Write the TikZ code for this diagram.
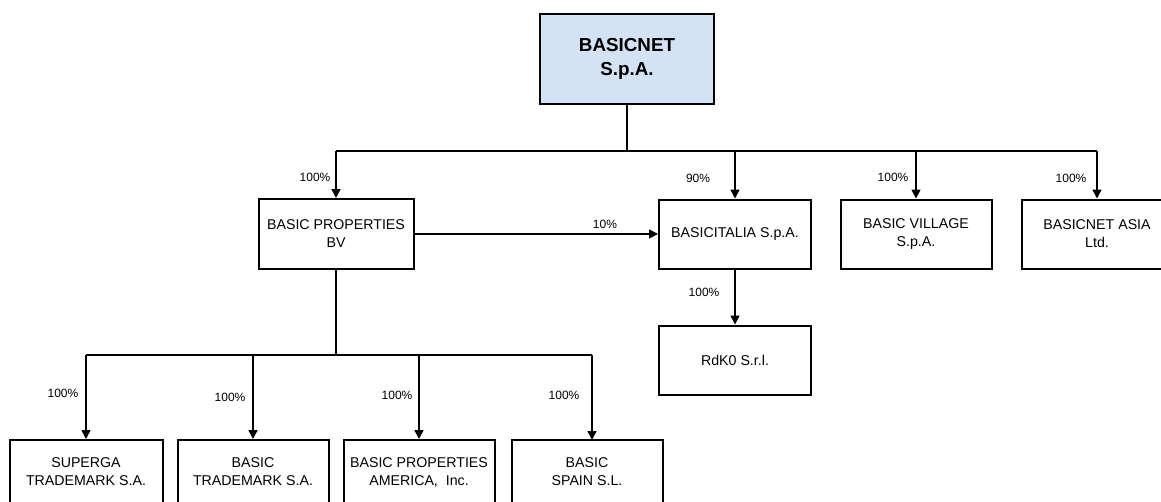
\documentclass[tikz,border=0pt]{standalone}
\usepackage{fontspec}
\setmainfont{Liberation Sans}
\usetikzlibrary{arrows.meta}
\begin{document}
\begin{tikzpicture}[x=1pt,y=-1pt,
  box/.style={draw=black,line width=2pt,fill=white,inner sep=0pt,align=center,
    font=\fontsize{14.2}{18}\selectfont},
  topbox/.style={draw=black,line width=2.8pt,fill=topblue,inner sep=0pt,align=center,
    font=\fontsize{18.8}{24}\selectfont\bfseries,minimum width=174pt,minimum height=90pt},
  conn/.style={draw=black,line width=1.6pt},
  arr/.style={conn,-{Triangle[length=9pt,width=9pt]}},
  pct/.style={inner sep=0pt,font=\fontsize{12}{14}\selectfont}]
\definecolor{topblue}{RGB}{212,227,243}
\useasboundingbox (0,0) rectangle (1161,501);
% nodes
\node[topbox] (top) at (627,59) {BASICNET\\S.p.A.};
\node[box,minimum width=155pt,minimum height=70pt] (bp) at (336,234) {BASIC PROPERTIES\\BV};
\node[box,minimum width=152pt,minimum height=69pt] (bi) at (735,234) {BASICITALIA S.p.A.};
\node[box,minimum width=151pt,minimum height=69pt] (bv) at (916,234) {BASIC VILLAGE\\S.p.A.};
\node[box,minimum width=150pt,minimum height=69pt] (ba) at (1097,234) {BASICNET ASIA\\Ltd.};
\node[box,minimum width=152pt,minimum height=69pt] (rd) at (735,360) {RdK0 S.r.l.};
\node[box,minimum width=153pt,minimum height=64pt] (sg) at (86,472) {SUPERGA\\TRADEMARK S.A.};
\node[box,minimum width=151pt,minimum height=64pt] (tm) at (253,472) {BASIC\\TRADEMARK S.A.};
\node[box,minimum width=151pt,minimum height=64pt] (am) at (419,472) {BASIC PROPERTIES\\AMERICA,\ \ Inc.};
\node[box,minimum width=151pt,minimum height=64pt] (sp) at (587,472) {BASIC\\SPAIN S.L.};
% junctions
\coordinate (j1) at (627,151);
\coordinate (j2) at (336,355);
\coordinate (spt) at (592,440);
% top bus
\draw[conn] (top.south) -- (j1);
\draw[conn] (bp.north |- j1) -- (ba.north |- j1);
\draw[arr] (bp.north |- j1) -- (bp.north);
\draw[arr] (bi.north |- j1) -- (bi.north);
\draw[arr] (bv.north |- j1) -- (bv.north);
\draw[arr] (ba.north |- j1) -- (ba.north);
% cross holding
\draw[arr] (bp.east) -- (bi.west);
\draw[arr] (bi.south) -- (rd.north);
% lower bus
\draw[conn] (bp.south) -- (j2);
\draw[conn] (sg.north |- j2) -- (spt |- j2);
\draw[arr] (sg.north |- j2) -- (sg.north);
\draw[arr] (tm.north |- j2) -- (tm.north);
\draw[arr] (am.north |- j2) -- (am.north);
\draw[arr] (spt |- j2) -- (spt);
% labels
\node[pct] (l1) at (315,177) {100\%};
\node[pct] (l2) at (605,224) {10\%};
\node[pct] (l3) at (698,178) {90\%};
\node[pct] (l4) at (893,177) {100\%};
\node[pct] (l5) at (1071,178) {100\%};
\node[pct] (l6) at (704,292) {100\%};
\node[pct] (l7) at (63,393) {100\%};
\node[pct] (l8) at (230,397) {100\%};
\node[pct] (l9) at (397,395) {100\%};
\node[pct] (l10) at (564,395) {100\%};
\end{tikzpicture}
\end{document}
